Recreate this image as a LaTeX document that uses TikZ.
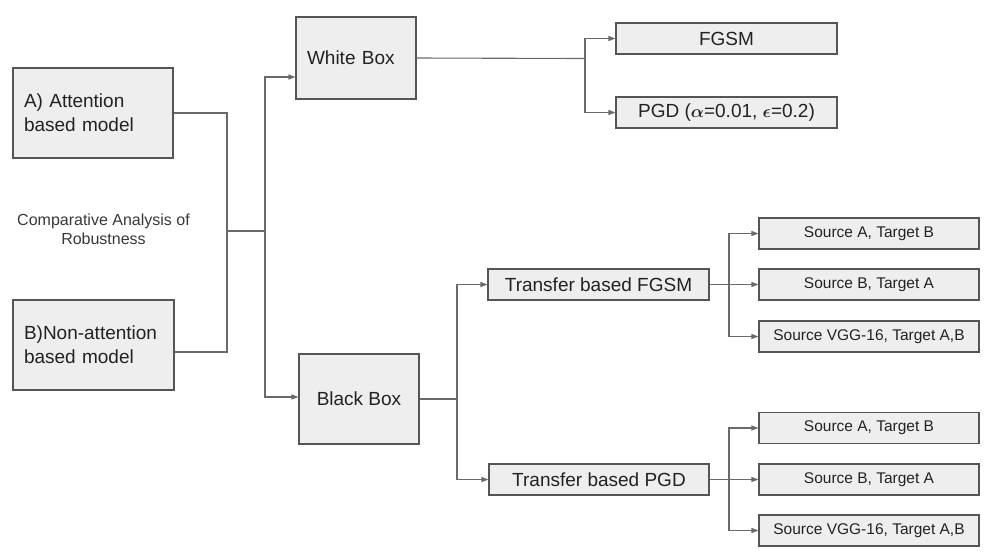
\documentclass[tikz,border=0pt]{standalone}
\usepackage{amsmath}
\usepackage{fontspec}
\setmainfont{Liberation Sans}
\usetikzlibrary{arrows.meta}
\definecolor{boxfill}{HTML}{EEEEEE}
\definecolor{boxline}{HTML}{555555}
\definecolor{wirecol}{HTML}{6A6A6A}
\definecolor{txt}{HTML}{222222}
\begin{document}
\begin{tikzpicture}[x=1pt,y=-1pt,
  box/.style={draw=boxline, line width=1.1pt, fill=boxfill, inner sep=0pt},
  wire/.style={draw=wirecol, line width=1.1pt},
  arr/.style={wire, -{Triangle[length=7pt,width=5pt]}},
  big/.style={font=\fontsize{19}{24}\selectfont, text=txt},
  small/.style={font=\fontsize{15.5}{18}\selectfont, text=txt},
  leaf/.style={box, small, minimum width=220pt, minimum height=31pt}]
\useasboundingbox (0,0) rectangle (988,558);

% left boxes
\node[box, big, minimum width=160pt, minimum height=90pt, text width=138pt, inner xsep=11pt, align=left] (A) at (93,113) {A) Attention\\based model};
\node[box, big, minimum width=161pt, minimum height=90pt, text width=139pt, inner xsep=11pt, align=left] (B) at (93.5,345) {B)Non-attention\\based model};
\node[font=\fontsize{16}{19}\selectfont, text=txt!90, align=center] (T) at (103.5,229.5) {Comparative Analysis of\\Robustness};

% middle boxes
\node[box, big, minimum width=120pt, minimum height=82pt, text width=98pt, inner xsep=11pt, align=left] (W) at (356,58) {White Box};
\node[box, big, minimum width=120pt, minimum height=90pt] (K) at (359,399) {Black Box};

% white box children
\node[box, big, minimum width=221pt, minimum height=31pt] (F) at (726.5,38.5) {FGSM};
\node[box, big, minimum width=221pt, minimum height=31pt] (P) at (726.5,112.5) {PGD ($\boldsymbol{\alpha}$=0.01, $\boldsymbol{\epsilon}$=0.2)};

% black box children
\node[box, big, minimum width=221pt, minimum height=31pt] (TF) at (598.5,284.5) {Transfer based FGSM};
\node[box, big, minimum width=220pt, minimum height=31pt] (TP) at (599,479.5) {Transfer based PGD};

% leaves
\node[leaf] (S1) at (869,233.5) {Source A, Target B};
\node[leaf] (S2) at (869,284.5) {Source B, Target A};
\node[leaf] (S3) at (869,336.5) {Source VGG-16, Target A,B};
\node[leaf] (S4) at (869,428) {Source A, Target B};
\node[leaf] (S5) at (869,479.5) {Source B, Target A};
\node[leaf] (S6) at (869,530.5) {Source VGG-16, Target A,B};

% junction coordinates
\coordinate (j1) at (227,231);
\coordinate (j2) at (265,231);
\coordinate (w) at (585,58.5);
\coordinate (b) at (457,399);
\coordinate (t1) at (729,284.5);
\coordinate (t2) at (729,479.5);

% connectors
\draw[wire] (A.east) -| (j1) |- ([yshift=-7pt]B.east);
\draw[wire] (j1) -- (j2);
\draw[arr] (j2) |- ([yshift=-19pt]W.west);
\draw[arr] (j2) |- ([yshift=2pt]K.west);

\draw[wire] (W.east) -- (w);
\draw[arr] (w) |- (F.west);
\draw[arr] (w) |- (P.west);

\draw[wire] (K.east) -- (b);
\draw[arr] (b) |- (TF.west);
\draw[arr] (b) |- (TP.west);

\draw[wire] (TF.east) -- (t1);
\draw[arr] (t1) |- (S1.west);
\draw[arr] (t1) |- (S2.west);
\draw[arr] (t1) |- (S3.west);

\draw[wire] (TP.east) -- (t2);
\draw[arr] (t2) |- (S4.west);
\draw[arr] (t2) |- (S5.west);
\draw[arr] (t2) |- (S6.west);
\end{tikzpicture}
\end{document}
